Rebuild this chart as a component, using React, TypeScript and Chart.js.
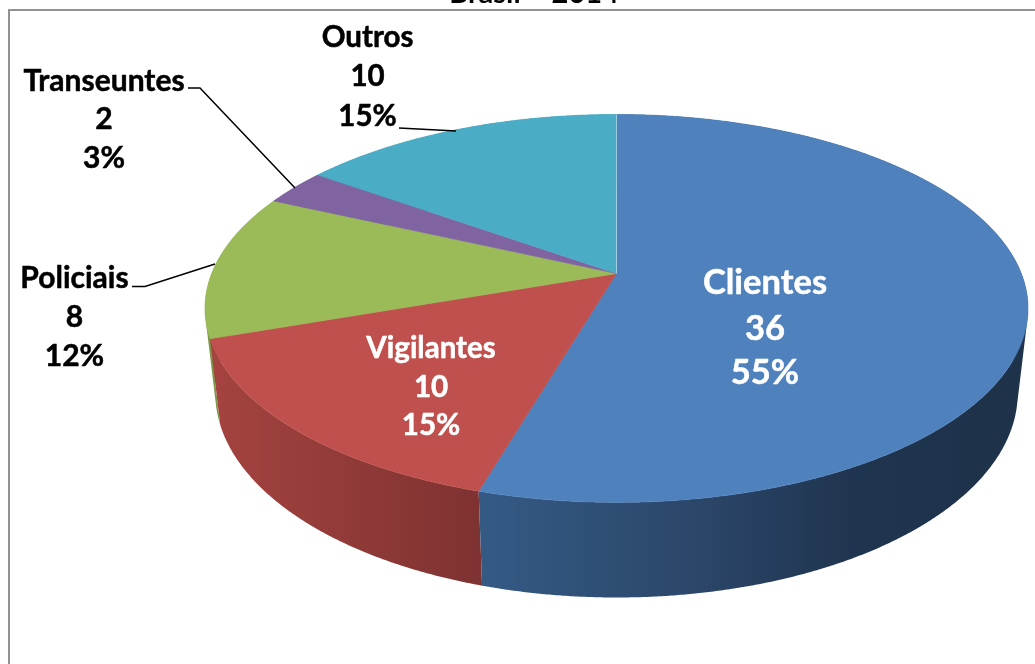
import React, { useEffect, useRef } from "react";
import { Chart, registerables } from "chart.js";

Chart.register(...registerables);

const categories = ["Clientes", "Vigilantes", "Policiais", "Transeuntes", "Outros"];
const values = [36, 10, 8, 2, 10];
const titleText = "Brasil – 2014";

const topColors = ["#4F81BD", "#C0504D", "#9BBB59", "#8064A2", "#4BACC6"];
const wallStops: [number, string][][] = [
  [[480, "#345A84"], [700, "#2B4669"], [860, "#1F344E"], [1030, "#1E3249"]],
  [[215, "#A4433F"], [480, "#7E3231"]],
  [[205, "#7C9647"], [300, "#7C9647"]],
  [[270, "#665082"], [320, "#665082"]],
  [[320, "#3C8A9E"], [616, "#3C8A9E"]],
];

const labelPlacement = [
  { x: 765, ys: [283, 329, 373], size: 34.5, color: "#FFFFFF" },
  { x: 431, ys: [348, 387, 425], size: 29.5, color: "#FFFFFF" },
  { x: 74.5, ys: [278, 317, 356], size: 30, color: "#000000" },
  { x: 104, ys: [81, 119, 158], size: 30, color: "#000000" },
  { x: 367.5, ys: [37, 76, 116], size: 29.5, color: "#000000" },
];

const leaders: ([number, number][] | null)[] = [
  null,
  null,
  [[132, 286.5], [145, 286.5], [215, 264]],
  [[188, 88], [200, 88], [295, 188]],
  [[399, 128], [456, 131]],
];

// projection of the pie disc on the picture
const apexX = 616.5;
const apexY = 273.5;
const radX = 404.8;
const radY = 187.7;
const persp = 0.18;
const floorY = 356;
const floorScaleX = 0.975;
const floorScaleY = 1.055;
const FONT = "Lato, 'Noto Sans', sans-serif";

const project = (angle: number, floor: boolean): [number, number] => {
  const t = angle + Math.PI / 2;
  const u = Math.sin(t);
  const v = -Math.cos(t);
  const d = 1 - persp * v;
  const px = (radX * u) / d;
  const py = (radY * v) / d;
  return floor
    ? [apexX + floorScaleX * px, floorY + floorScaleY * py]
    : [apexX + px, apexY + py];
};

const pie3d = {
  id: "pie3d",
  beforeDatasetDraw(chart: any, args: any) {
    const ctx: CanvasRenderingContext2D = chart.ctx;
    const arcs = args.meta.data;
    const total = values.reduce((a, b) => a + b, 0);

    ctx.save();
    // frame
    ctx.fillStyle = "#FFFFFF";
    ctx.fillRect(0, 0, chart.width, chart.height);
    ctx.strokeStyle = "#929292";
    ctx.lineWidth = 2;
    ctx.beginPath();
    ctx.moveTo(9, chart.height);
    ctx.lineTo(9, 10);
    ctx.lineTo(chart.width, 10);
    ctx.stroke();

    // title, cut by the top of the picture
    ctx.fillStyle = "#000000";
    ctx.font = `bold 29px ${FONT}`;
    ctx.textAlign = "center";
    ctx.textBaseline = "alphabetic";
    ctx.fillText(titleText, 534, 3);

    // walls, far ones first
    [3, 4, 2, 1, 0].forEach((i) => {
      const arc = arcs[i];
      const steps = Math.max(8, Math.ceil((arc.endAngle - arc.startAngle) / 0.005));
      ctx.beginPath();
      for (let s = 0; s < steps; s++) {
        const a0 = arc.startAngle + ((arc.endAngle - arc.startAngle) * s) / steps;
        const a1 = arc.startAngle + ((arc.endAngle - arc.startAngle) * (s + 1)) / steps;
        const q = [project(a0, false), project(a1, false), project(a1, true), project(a0, true)];
        let area = 0;
        q.forEach((p, k) => {
          const n = q[(k + 1) % 4];
          area += p[0] * n[1] - n[0] * p[1];
        });
        const seq = area >= 0 ? q : [...q].reverse();
        ctx.moveTo(seq[0][0], seq[0][1]);
        ctx.lineTo(seq[1][0], seq[1][1]);
        ctx.lineTo(seq[2][0], seq[2][1]);
        ctx.lineTo(seq[3][0], seq[3][1]);
        ctx.closePath();
      }
      const stops = wallStops[i];
      const g = ctx.createLinearGradient(stops[0][0], 0, stops[stops.length - 1][0], 0);
      const span = stops[stops.length - 1][0] - stops[0][0];
      stops.forEach(([x, c]) => g.addColorStop((x - stops[0][0]) / span, c));
      ctx.fillStyle = g;
      ctx.fill();
    });

    // top faces
    arcs.forEach((arc: any, i: number) => {
      const steps = Math.max(8, Math.ceil((arc.endAngle - arc.startAngle) / 0.005));
      ctx.beginPath();
      ctx.moveTo(apexX, apexY);
      for (let s = 0; s <= steps; s++) {
        const a = arc.startAngle + ((arc.endAngle - arc.startAngle) * s) / steps;
        const p = project(a, false);
        ctx.lineTo(p[0], p[1]);
      }
      ctx.closePath();
      ctx.fillStyle = topColors[i];
      ctx.fill();
      ctx.strokeStyle = topColors[i];
      ctx.lineWidth = 0.6;
      ctx.stroke();
    });
    // thin light edge between first and last slice
    ctx.strokeStyle = "rgba(255,255,255,0.45)";
    ctx.lineWidth = 1;
    ctx.beginPath();
    const tp = project(arcs[0].startAngle, false);
    ctx.moveTo(apexX, apexY);
    ctx.lineTo(tp[0], tp[1]);
    ctx.stroke();

    // leader lines
    ctx.strokeStyle = "#000000";
    ctx.lineWidth = 1.5;
    leaders.forEach((l) => {
      if (!l) return;
      ctx.beginPath();
      l.forEach((p, k) => (k ? ctx.lineTo(p[0], p[1]) : ctx.moveTo(p[0], p[1])));
      ctx.stroke();
    });

    // labels
    ctx.textAlign = "center";
    ctx.textBaseline = "middle";
    ctx.lineJoin = "round";
    categories.forEach((name, i) => {
      const pl = labelPlacement[i];
      const lines = [name, String(values[i]), `${Math.round((values[i] / total) * 100)}%`];
      ctx.fillStyle = pl.color;
      ctx.strokeStyle = pl.color;
      ctx.lineWidth = 0.5;
      ctx.font = `bold ${pl.size}px ${FONT}`;
      lines.forEach((t, k) => {
        ctx.fillText(t, pl.x, pl.ys[k]);
        ctx.strokeText(t, pl.x, pl.ys[k]);
      });
    });
    ctx.restore();
    return false;
  },
};

export default function App() {
  const ref = useRef<HTMLCanvasElement>(null);
  useEffect(() => {
    const chart = new Chart(ref.current!, {
      type: "pie",
      data: {
        labels: categories,
        datasets: [{ data: values, backgroundColor: topColors, borderWidth: 0 }],
      },
      options: {
        animation: false,
        responsive: false,
        plugins: { legend: { display: false }, tooltip: { enabled: false } },
      },
      plugins: [pie3d],
    } as any);
    return () => chart.destroy();
  }, []);
  return (
    <canvas
      ref={ref}
      width={1035}
      height={664}
      style={{ position: "fixed", left: 0, top: 0, width: 1035, height: 664, display: "block" }}
    />
  );
}
